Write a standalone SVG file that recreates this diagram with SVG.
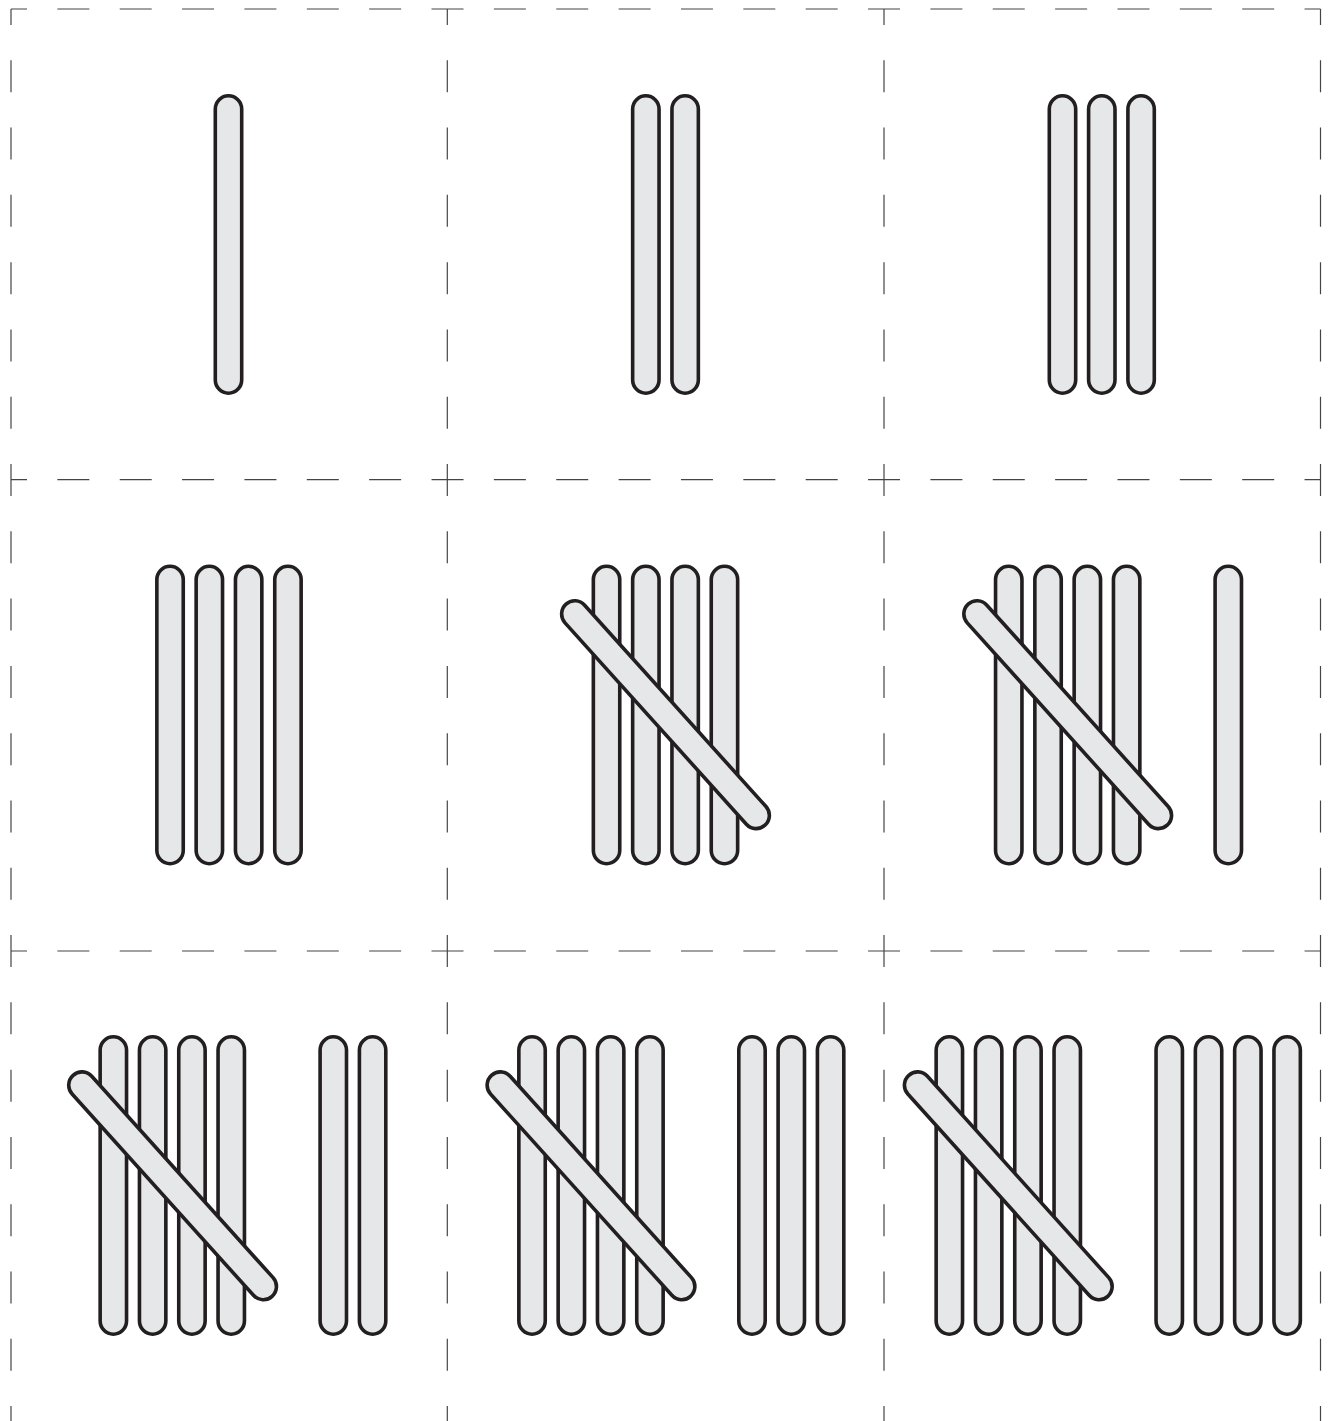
<svg xmlns="http://www.w3.org/2000/svg" xmlns:xlink="http://www.w3.org/1999/xlink" width="1328" height="1421" viewBox="0 0 1328 1421">
<style>
.stick{fill:#e6e7e8;stroke:#231f20;stroke-width:3.6}
.h{stroke:#454547;stroke-width:1.2;fill:none;stroke-dasharray:32 30.36;stroke-dashoffset:16}
.v{stroke:#454547;stroke-width:1.2;fill:none;stroke-dasharray:32 35.29;stroke-dashoffset:16}
</style>
<defs>
<rect id="stick" class="stick" x="-13.2" y="-148.7" width="26.4" height="297.4" rx="13.2" ry="13.2"/>
</defs>
<rect width="1328" height="1421" fill="#ffffff"/>
<g id="grid">
<line class="h" x1="11" y1="9" x2="1320.5" y2="9"/>
<line class="h" x1="11" y1="479.7" x2="1320.5" y2="479.7"/>
<line class="h" x1="11" y1="951" x2="1320.5" y2="951"/>
<line class="h" x1="11" y1="1421.5" x2="1320.5" y2="1421.5"/>
<line class="v" x1="11" y1="9" x2="11" y2="1430"/>
<line class="v" x1="447.3" y1="9" x2="447.3" y2="1430"/>
<line class="v" x1="884" y1="9" x2="884" y2="1430"/>
<line class="v" x1="1320.5" y1="9" x2="1320.5" y2="1430"/>
</g>
<g id="cell1">
<use xlink:href="#stick" x="228.5" y="244.5"/>
</g>
<g id="cell2">
<use xlink:href="#stick" x="645.85" y="244.5"/>
<use xlink:href="#stick" x="685.15" y="244.5"/>
</g>
<g id="cell3">
<use xlink:href="#stick" x="1062.5" y="244.5"/>
<use xlink:href="#stick" x="1101.8" y="244.5"/>
<use xlink:href="#stick" x="1141.1" y="244.5"/>
</g>
<g id="cell4">
<use xlink:href="#stick" x="170.05" y="715"/>
<use xlink:href="#stick" x="209.35" y="715"/>
<use xlink:href="#stick" x="248.65" y="715"/>
<use xlink:href="#stick" x="287.95" y="715"/>
</g>
<g id="cell5">
<use xlink:href="#stick" x="606.55" y="715"/>
<use xlink:href="#stick" x="645.85" y="715"/>
<use xlink:href="#stick" x="685.15" y="715"/>
<use xlink:href="#stick" x="724.45" y="715"/>
<use xlink:href="#stick" transform="translate(665.5 714.7) rotate(-42)"/>
</g>
<g id="cell6">
<use xlink:href="#stick" x="1008.75" y="715"/>
<use xlink:href="#stick" x="1048.05" y="715"/>
<use xlink:href="#stick" x="1087.35" y="715"/>
<use xlink:href="#stick" x="1126.65" y="715"/>
<use xlink:href="#stick" transform="translate(1067.7 714.7) rotate(-42)"/>
<use xlink:href="#stick" x="1228.3" y="715"/>
</g>
<g id="cell7">
<use xlink:href="#stick" x="113.35" y="1185.5"/>
<use xlink:href="#stick" x="152.65" y="1185.5"/>
<use xlink:href="#stick" x="191.95" y="1185.5"/>
<use xlink:href="#stick" x="231.25" y="1185.5"/>
<use xlink:href="#stick" transform="translate(172.6 1185.8) rotate(-42)"/>
<use xlink:href="#stick" x="333.3" y="1185.5"/>
<use xlink:href="#stick" x="372.6" y="1185.5"/>
</g>
<g id="cell8">
<use xlink:href="#stick" x="532.05" y="1185.5"/>
<use xlink:href="#stick" x="571.35" y="1185.5"/>
<use xlink:href="#stick" x="610.65" y="1185.5"/>
<use xlink:href="#stick" x="649.95" y="1185.5"/>
<use xlink:href="#stick" transform="translate(591 1185.8) rotate(-42)"/>
<use xlink:href="#stick" x="752" y="1185.5"/>
<use xlink:href="#stick" x="791.3" y="1185.5"/>
<use xlink:href="#stick" x="830.6" y="1185.5"/>
</g>
<g id="cell9">
<use xlink:href="#stick" x="949.35" y="1185.5"/>
<use xlink:href="#stick" x="988.65" y="1185.5"/>
<use xlink:href="#stick" x="1027.95" y="1185.5"/>
<use xlink:href="#stick" x="1067.25" y="1185.5"/>
<use xlink:href="#stick" transform="translate(1008.3 1185.8) rotate(-42)"/>
<use xlink:href="#stick" x="1169.25" y="1185.5"/>
<use xlink:href="#stick" x="1208.55" y="1185.5"/>
<use xlink:href="#stick" x="1247.85" y="1185.5"/>
<use xlink:href="#stick" x="1287.15" y="1185.5"/>
</g>
</svg>
